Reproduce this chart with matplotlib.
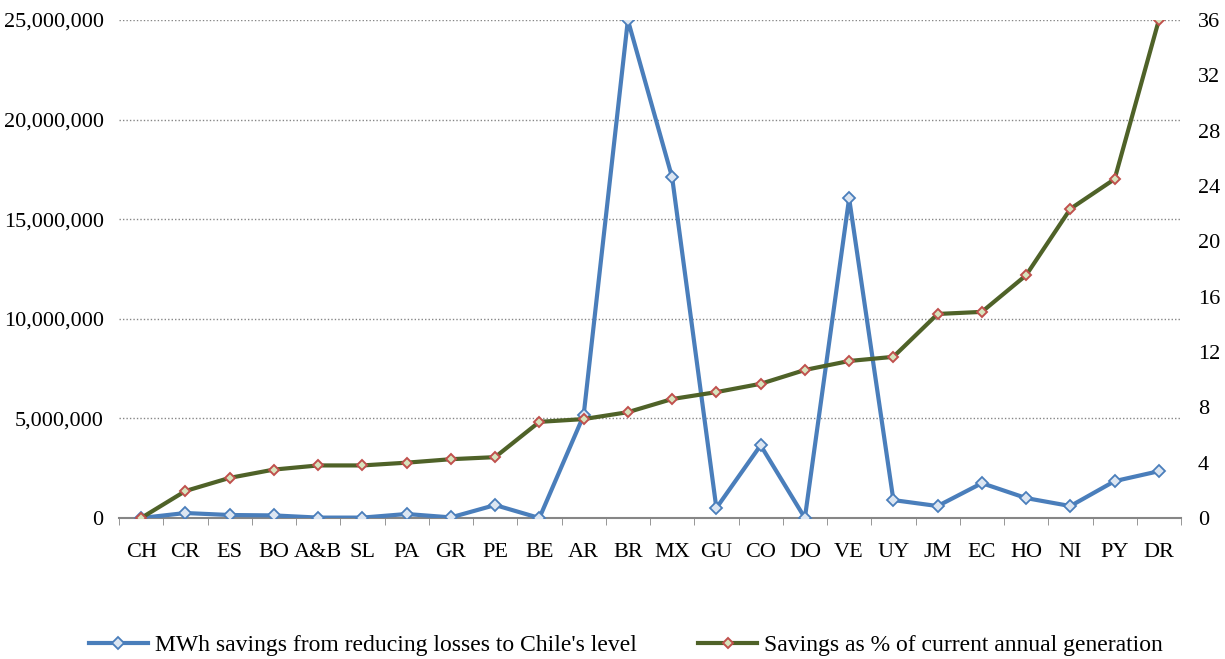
import numpy as np
import matplotlib
matplotlib.use("Agg")
import matplotlib.pyplot as plt
from matplotlib.ticker import FuncFormatter, MultipleLocator, FixedLocator

plt.rcParams['font.family'] = ['Liberation Serif', 'DejaVu Serif']

# Countries ordered by savings share
countries = ['CH', 'CR', 'ES', 'BO', 'A&B', 'SL', 'PA', 'GR', 'PE', 'BE', 'AR', 'BR',
             'MX', 'GU', 'CO', 'DO', 'VE', 'UY', 'JM', 'EC', 'HO', 'NI', 'PY', 'DR']

# MWh savings from reducing losses to Chile's level
mwh_savings = [0, 250000, 150000, 130000, 20000, 20000, 200000, 30000, 650000, 0,
               5150000, 25000000, 17100000, 500000, 3650000, 0, 16050000, 900000,
               600000, 1750000, 1000000, 600000, 1850000, 2350000]

# Savings as % of current annual generation
pct_savings = [0, 1.95, 2.9, 3.5, 3.8, 3.8, 4.0, 4.25, 4.4, 6.95, 7.15, 7.65,
               8.6, 9.1, 9.7, 10.7, 11.35, 11.65, 14.75, 14.9, 17.55, 22.35, 24.5, 36]

x = np.arange(len(countries))

fig = plt.figure(figsize=(12.25, 6.59), dpi=100)
ax = fig.add_axes([119 / 1225, 1 - 518 / 659, (1181 - 119) / 1225, (518 - 20) / 659])
ax2 = ax.twinx()

l1, = ax.plot(x, mwh_savings, color='#4a7ebb', lw=3, marker='D', markersize=6.5,
              markerfacecolor='#dce6f2', markeredgecolor='#4a7ebb', markeredgewidth=1.3,
              label="MWh savings from reducing losses to Chile's level", zorder=3)
l2, = ax2.plot(x, pct_savings, color='#4f6228', lw=3, marker='D', markersize=5,
               markerfacecolor='#d7e4bd', markeredgecolor='#c0504d', markeredgewidth=1.4,
               label='Savings as % of current annual generation', zorder=3)

ax.set_xlim(-0.5, len(countries) - 0.5)
ax.set_ylim(0, 25000000)
ax2.set_ylim(0, 36)

ax.yaxis.set_major_locator(MultipleLocator(5000000))
ax.yaxis.set_major_formatter(FuncFormatter(lambda v, p: f'{int(v):,}'))
ax2.yaxis.set_major_locator(MultipleLocator(4))

ax.set_xticks(x)
ax.set_xticklabels(countries)
ax.xaxis.set_minor_locator(FixedLocator(np.arange(-0.5, len(countries), 1)))
ax.tick_params(axis='x', which='major', length=0, pad=18, labelsize=16)
ax.tick_params(axis='x', which='minor', length=5, color='#868686', direction='out')
ax.tick_params(axis='y', length=0, labelsize=16, pad=11)
ax2.tick_params(axis='y', length=0, labelsize=16, pad=12)

ax.grid(axis='y', color='#868686', linestyle=(0, (1, 1.5)), linewidth=1)
ax.set_axisbelow(True)

for a in (ax, ax2):
    for s in ('top', 'left', 'right'):
        a.spines[s].set_visible(False)
ax2.spines['bottom'].set_visible(False)
ax.spines['bottom'].set_color('#868686')
ax.spines['bottom'].set_linewidth(1.5)

fig.legend(handles=[l1, l2], loc='center', bbox_to_anchor=(0.511, 1 - 645 / 659),
           ncol=2, frameon=False, fontsize=17, handlelength=2.5, columnspacing=2.6,
           handletextpad=0.3)

fig.savefig('out.png', dpi=100)
